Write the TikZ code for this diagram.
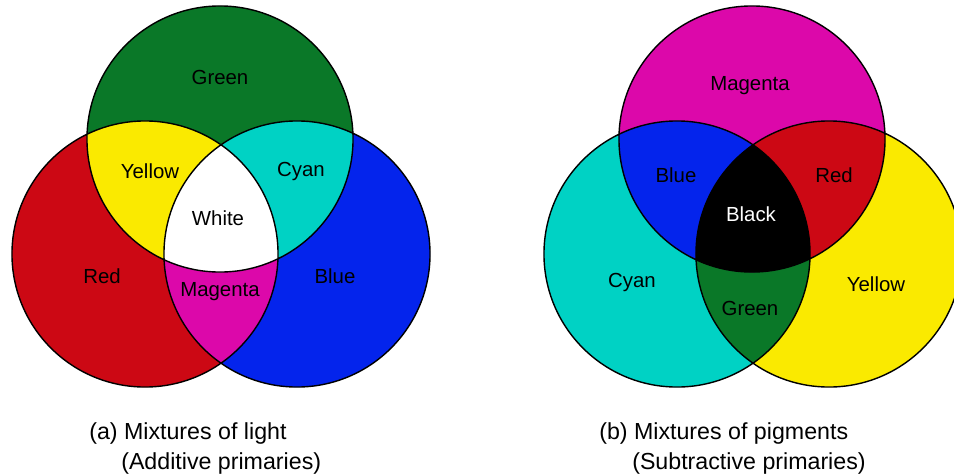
\documentclass[tikz,border=0pt]{standalone}
\usepackage{fontspec}
\setmainfont{Liberation Sans}
\usepackage{xcolor}
\usepackage{tikz}
\usetikzlibrary{positioning}

\definecolor{cRed}{RGB}{204,8,20}
\definecolor{cGreen}{RGB}{10,120,40}
\definecolor{cBlue}{RGB}{4,36,236}
\definecolor{cYellow}{RGB}{250,234,0}
\definecolor{cCyan}{RGB}{0,210,196}
\definecolor{cMagenta}{RGB}{220,8,170}
\newcommand{\rad}{3.325cm}

\tikzset{rim/.style={draw=black,line width=1pt},
         lbl/.style={font=\fontsize{14.5}{17}\selectfont,inner sep=1pt},
         capline/.style={font=\fontsize{16.5}{19}\selectfont,anchor=west,inner sep=0pt}}

\begin{document}
\begin{tikzpicture}[x=0.025cm,y=-0.025cm]
\clip (0,0) rectangle (954,475);
\fill[white] (0,0) rectangle (954,475);

% (a) additive
\coordinate (gA) at (220,139);
\coordinate (rA) at (145,254);
\coordinate (bA) at (297,254);
\fill[cGreen] (gA) circle (\rad);
\fill[cRed] (rA) circle (\rad);
\fill[cBlue] (bA) circle (\rad);
\begin{scope}
  \clip (rA) circle (\rad);
  \fill[cMagenta] (bA) circle (\rad);
\end{scope}
\begin{scope}
  \clip (gA) circle (\rad);
  \fill[cYellow] (rA) circle (\rad);
  \fill[cCyan] (bA) circle (\rad);
  \clip (rA) circle (\rad);
  \fill[white] (bA) circle (\rad);
\end{scope}
\draw[rim] (gA) circle (\rad) (rA) circle (\rad) (bA) circle (\rad);

\node[lbl] (greenA) at (220,77) {Green};
\node[lbl] (yellowA) at (150,171) {Yellow};
\node[lbl] (cyanA) at (301,171) {Cyan};
\node[lbl] (whiteA) at (218,218) {White};
\node[lbl] (redA) at (102,276) {Red};
\node[lbl] (magentaA) at (220,292) {Magenta};
\node[lbl] (blueA) at (335,276) {Blue};

% (b) subtractive
\coordinate (mB) at (752,139);
\coordinate (cB) at (677,254);
\coordinate (yB) at (829,254);
\fill[cMagenta] (mB) circle (\rad);
\fill[cCyan] (cB) circle (\rad);
\fill[cYellow] (yB) circle (\rad);
\begin{scope}
  \clip (cB) circle (\rad);
  \fill[cGreen] (yB) circle (\rad);
\end{scope}
\begin{scope}
  \clip (mB) circle (\rad);
  \fill[cBlue] (cB) circle (\rad);
  \fill[cRed] (yB) circle (\rad);
  \clip (cB) circle (\rad);
  \fill[black] (yB) circle (\rad);
\end{scope}
\draw[rim] (mB) circle (\rad) (cB) circle (\rad) (yB) circle (\rad);

\node[lbl] (magentaB) at (750,86) {Magenta};
\node[lbl] (blueB) at (676,175) {Blue};
\node[lbl] (redB) at (834,175) {Red};
\node[lbl,white] (blackB) at (751,214) {Black};
\node[lbl] (cyanB) at (632,282) {Cyan};
\node[lbl] (greenB) at (750,308) {Green};
\node[lbl] (yellowB) at (876,284) {Yellow};

% captions
\node[capline] (capA) at (89,433) {(a) Mixtures of light};
\node[capline] (subA) at (121,463) {(Additive primaries)};
\node[capline] (capB) at (599,433) {(b) Mixtures of pigments};
\node[capline] (subB) at (632,463) {(Subtractive primaries)};
\end{tikzpicture}
\end{document}
